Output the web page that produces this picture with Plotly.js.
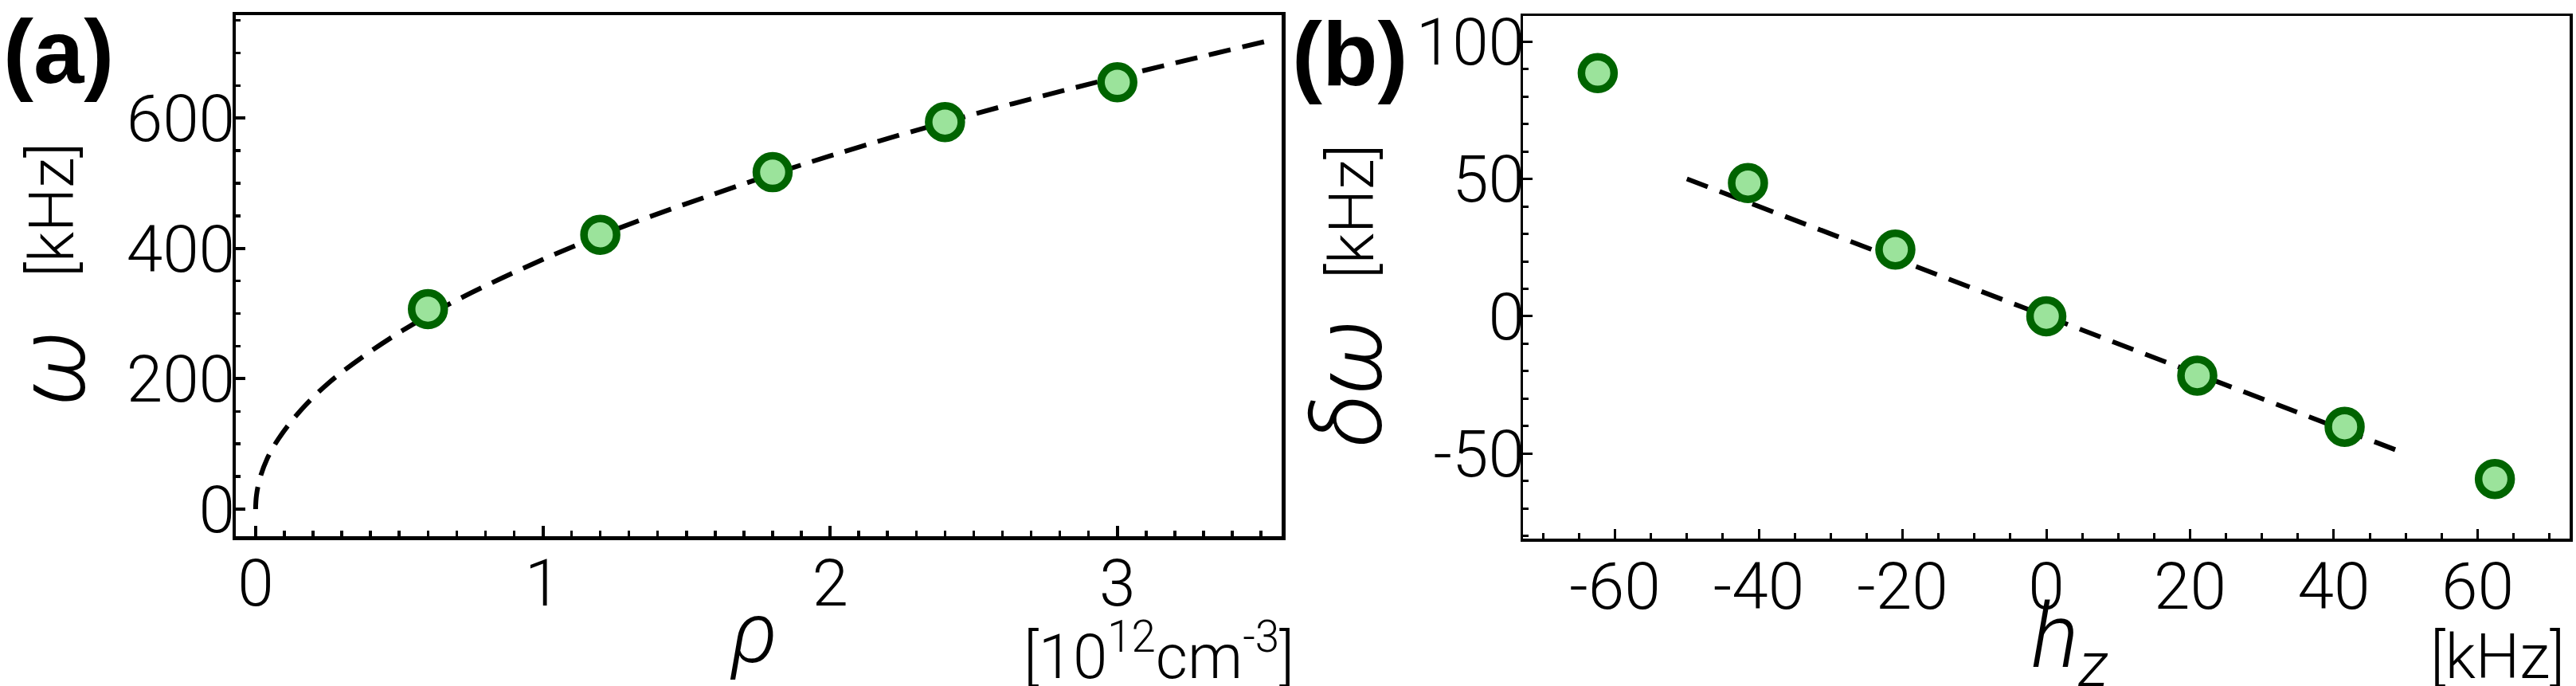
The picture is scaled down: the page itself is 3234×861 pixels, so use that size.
<!DOCTYPE html>
<html>
<head>
<meta charset="utf-8">
<script src="https://cdn.plot.ly/plotly-3.0.1.min.js"></script>
<style>html,body{margin:0;padding:0;background:#fff;}#chart{width:3234px;height:861px;}</style>
</head>
<body>
<div id="chart"></div>
<script>
// ---- Panel (a): omega vs rho ----
const rhoPoints = [0.6, 1.2, 1.8, 2.4, 3.0];
const omegaPoints = [307, 421, 517, 594, 655];
const rhoFit = [0, 0.003, 0.015, 0.04, 0.08, 0.15, 0.25, 0.4, 0.6, 0.85, 1.2, 1.6, 2.0, 2.5, 3.0, 3.52];
const omegaFit = [0, 21, 47, 77, 108, 148, 192, 242, 297, 353, 420, 484, 542, 606, 663, 718];
const xTicksA = [0, 1, 2, 3];
const xTickTextA = ['0', '1', '2', '3'];
const xHalfTicksA = [0.5, 1.5, 2.5, 3.5];
const yTicksA = [0, 200, 400, 600];
const yTickTextA = ['0', '200', '400', '600'];

// ---- Panel (b): delta omega vs h_z ----
const hzPoints = [-62.4, -41.5, -21, 0, 21, 41.5, 62.4];
const dOmegaPoints = [88.5, 48.5, 24.3, 0, -21.6, -40.2, -59.2];
const hzFit = [-50, 50];
const dOmegaFit = [50, -50];
const xTicksB = [-60, -40, -20, 0, 20, 40, 60];
const xTickTextB = ['-60', '-40', '-20', '0', '20', '40', '60'];
const yTicksB = [-50, 0, 50, 100];
const yTickTextB = ['-50', '0', '50', '100'];

const W = 3234, H = 861;
const px = v => v / W;
const py = v => 1 - v / H;

const FONT = 'Roboto, "Liberation Sans", Arial, sans-serif';
const markerStyle = {symbol: 'circle', size: 41, color: '#9be39b', line: {color: '#006400', width: 9.5}};
const tickFont = {family: FONT, size: 82, color: 'black', weight: 300};

const traces = [
  {x: rhoFit, y: omegaFit, mode: 'lines', xaxis: 'x', yaxis: 'y', hoverinfo: 'skip',
   line: {color: 'black', width: 6, dash: '28px,15px', shape: 'spline'}},
  {x: rhoPoints, y: omegaPoints, mode: 'markers', xaxis: 'x', yaxis: 'y', marker: markerStyle, cliponaxis: false},
  {x: hzFit, y: dOmegaFit, mode: 'lines', xaxis: 'x2', yaxis: 'y2', hoverinfo: 'skip',
   line: {color: 'black', width: 6, dash: '28px,16px'}},
  {x: hzPoints, y: dOmegaPoints, mode: 'markers', xaxis: 'x2', yaxis: 'y2', marker: markerStyle, cliponaxis: false}
];

const rangeXA = [-0.069, 3.572], rangeYA = [-41.6, 758];
const rangeXB = [-72.8, 72.8], rangeYB = [-80.9, 109.3];

const baseAxis = {showgrid: false, zeroline: false, showline: true, linecolor: 'black', mirror: true,
  ticks: 'inside', tickcolor: 'black', tickfont: tickFont, fixedrange: true};
const plainTicks = (extra) => Object.assign({showgrid: false, zeroline: false, showline: false, ticks: 'inside',
  tickcolor: 'black', showticklabels: false, fixedrange: true}, extra);

const layout = {
  width: W, height: H,
  margin: {l: 0, r: 0, t: 0, b: 0},
  paper_bgcolor: 'white', plot_bgcolor: 'white',
  showlegend: false,
  xaxis: Object.assign({}, baseAxis, {
    domain: [px(296), px(1609)], anchor: 'y', range: rangeXA,
    tickmode: 'array', tickvals: xTicksA, ticktext: xTickTextA,
    ticklen: 13, tickwidth: 4, linewidth: 4.5, ticklabelstandoff: -16,
    minor: {ticks: 'inside', tickmode: 'linear', tick0: 0, dtick: 0.1, ticklen: 7, tickwidth: 3.5, tickcolor: 'black', showgrid: false}
  }),
  xaxis5: plainTicks({overlaying: 'x', side: 'bottom', anchor: 'y', range: rangeXA,
    tickmode: 'array', tickvals: xHalfTicksA, ticklen: 13, tickwidth: 4}),
  yaxis: Object.assign({}, baseAxis, {
    domain: [py(673), py(19)], anchor: 'x', range: rangeYA,
    tickmode: 'array', tickvals: yTicksA, ticktext: yTickTextA,
    ticklen: 12, tickwidth: 4, linewidth: 4.5, ticklabelstandoff: -20,
    minor: {ticks: 'inside', tickmode: 'linear', tick0: 0, dtick: 50, ticklen: 6, tickwidth: 3.5, tickcolor: 'black', showgrid: false}
  }),
  xaxis3: plainTicks({overlaying: 'x', side: 'top', anchor: 'y', range: rangeXA,
    tickmode: 'linear', tick0: 0, dtick: 0.2, ticklen: 10, tickwidth: 3}),
  yaxis3: plainTicks({overlaying: 'y', side: 'right', anchor: 'x', range: rangeYA,
    tickmode: 'linear', tick0: 0, dtick: 50, ticklen: 10, tickwidth: 3}),
  xaxis2: Object.assign({}, baseAxis, {
    domain: [px(1912), px(3226)], anchor: 'y2', range: rangeXB,
    tickmode: 'array', tickvals: xTicksB, ticktext: xTickTextB,
    ticklen: 12, tickwidth: 3, linewidth: 3.5, ticklabelstandoff: -14,
    minor: {ticks: 'inside', tickmode: 'linear', tick0: 0, dtick: 5, ticklen: 7, tickwidth: 3, tickcolor: 'black', showgrid: false}
  }),
  yaxis2: Object.assign({}, baseAxis, {
    domain: [py(676), py(20)], anchor: 'x2', range: rangeYB,
    tickmode: 'array', tickvals: yTicksB, ticktext: yTickTextB,
    ticklen: 12, tickwidth: 3, linewidth: 3.5, ticklabelstandoff: -22,
    minor: {ticks: 'inside', tickmode: 'linear', tick0: 0, dtick: 10, ticklen: 7, tickwidth: 3, tickcolor: 'black', showgrid: false}
  }),
  xaxis4: plainTicks({overlaying: 'x2', side: 'top', anchor: 'y2', range: rangeXB,
    tickmode: 'linear', tick0: 0, dtick: 5, ticklen: 9, tickwidth: 3}),
  yaxis4: plainTicks({overlaying: 'y2', side: 'right', anchor: 'x2', range: rangeYB,
    tickmode: 'linear', tick0: 0, dtick: 10, ticklen: 9, tickwidth: 3}),
  annotations: [
    {text: '(a)', xref: 'paper', yref: 'paper', x: px(2), y: py(64), xanchor: 'left', yanchor: 'middle',
     showarrow: false, font: {family: '"Liberation Sans", Arial, sans-serif', size: 114, color: 'black', weight: 700}},
    {text: '(b)', xref: 'paper', yref: 'paper', x: px(1620), y: py(67), xanchor: 'left', yanchor: 'middle',
     showarrow: false, font: {family: '"Liberation Sans", Arial, sans-serif', size: 114, color: 'black', weight: 700}},
    // panel (a) y title
    {text: 'ω', xref: 'paper', yref: 'paper', x: px(65), y: py(462), xanchor: 'center', yanchor: 'middle',
     textangle: -90, showarrow: false, font: {family: FONT, size: 120, color: 'black', weight: 300, style: 'italic'}},
    {text: '[kHz]', xref: 'paper', yref: 'paper', x: px(66), y: py(264), xanchor: 'center', yanchor: 'middle',
     textangle: -90, showarrow: false, font: {family: FONT, size: 78, color: 'black', weight: 300}},
    // panel (a) x title
    {text: 'ρ', xref: 'paper', yref: 'paper', x: px(946), y: py(794), xanchor: 'center', yanchor: 'middle',
     showarrow: false, font: {family: FONT, size: 108, color: 'black', weight: 300, style: 'italic'}},
    {text: '[10<sup>12</sup>cm<sup>-3</sup>]', xref: 'paper', yref: 'paper', x: px(1455), y: py(818), xanchor: 'center', yanchor: 'middle',
     showarrow: false, font: {family: FONT, size: 78, color: 'black', weight: 300}},
    // panel (b) y title
    {text: 'δω', xref: 'paper', yref: 'paper', x: px(1693), y: py(481), xanchor: 'center', yanchor: 'middle',
     textangle: -90, showarrow: false, font: {family: FONT, size: 120, color: 'black', weight: 300, style: 'italic'}},
    {text: '[kHz]', xref: 'paper', yref: 'paper', x: px(1697), y: py(266), xanchor: 'center', yanchor: 'middle',
     textangle: -90, showarrow: false, font: {family: FONT, size: 78, color: 'black', weight: 300}},
    // panel (b) x title
    {text: 'h<sub>z</sub>', xref: 'paper', yref: 'paper', x: px(2598), y: py(806), xanchor: 'center', yanchor: 'middle',
     showarrow: false, font: {family: FONT, size: 112, color: 'black', weight: 300, style: 'italic'}},
    {text: '[kHz]', xref: 'paper', yref: 'paper', x: px(3135), y: py(824), xanchor: 'center', yanchor: 'middle',
     showarrow: false, font: {family: FONT, size: 78, color: 'black', weight: 300}}
  ]
};

Plotly.newPlot('chart', traces, layout, {staticPlot: true, displayModeBar: false});
</script>
</body>
</html>
